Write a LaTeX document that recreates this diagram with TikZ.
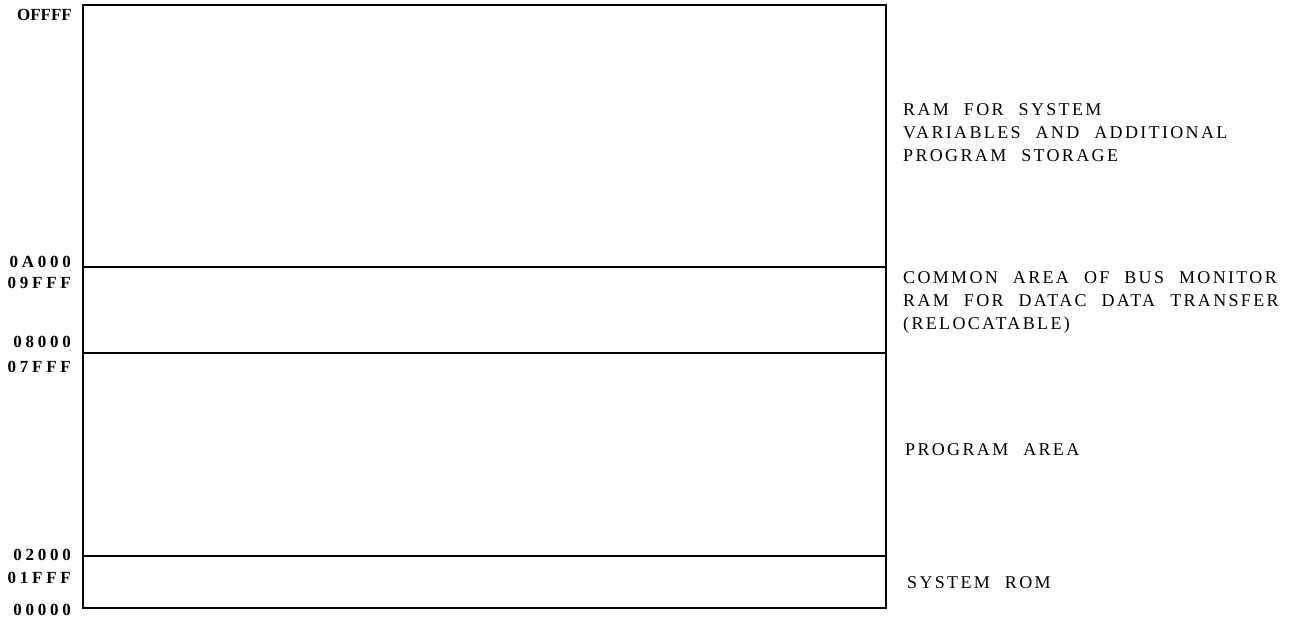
\documentclass[tikz,border=0pt]{standalone}
\usepackage{fontspec}
\setmainfont{Liberation Serif}
\newfontfamily\addrfont{Liberation Serif}[LetterSpace=22]
\newfontfamily\topfont{Liberation Serif}
\newfontfamily\notefont{Liberation Serif}[LetterSpace=13,WordSpace=2.2]

\tikzset{
  addr/.style={anchor=east,inner sep=0pt,font=\addrfont\bfseries\fontsize{17}{20}\selectfont},
  note/.style={anchor=west,inner sep=0pt,align=left,font=\notefont\fontsize{18}{23}\selectfont},
  wall/.style={line width=1.6pt}
}

\begin{document}
\begin{tikzpicture}[x=1pt,y=-1pt]
  \useasboundingbox (0,0) rectangle (1310,617);

  % memory map
  \coordinate (top) at (83,5);
  \coordinate (bot) at (886,608);
  \draw[wall] (top) rectangle (bot);
  \draw[wall] (83,267) -- (886,267) (83,353) -- (886,353) (83,556) -- (886,556);

  % addresses
  \node[addr,font=\topfont\bfseries\fontsize{17}{20}\selectfont] (ffff) at (72,15) {OFFFF};
  \node[addr] (a000) at (71,262) {0A000};
  \node[addr] (9fff) at (71,283) {09FFF};
  \node[addr] (8000) at (71,342) {08000};
  \node[addr] (7fff) at (71,367) {07FFF};
  \node[addr] (2000) at (71,555) {02000};
  \node[addr] (1fff) at (71,578) {01FFF};
  \node[addr] (0000) at (71,610) {00000};

  % regions
  \node[note] (ram) at (903,133) {RAM FOR SYSTEM\\VARIABLES AND ADDITIONAL\\PROGRAM STORAGE};
  \node[note] (common) at (903,302) {COMMON AREA OF BUS MONITOR\\RAM FOR DATAC DATA TRANSFER\\(RELOCATABLE)};
  \node[note] (prog) at (905,450) {PROGRAM AREA};
  \node[note] (rom) at (907,583) {SYSTEM ROM};
\end{tikzpicture}
\end{document}
